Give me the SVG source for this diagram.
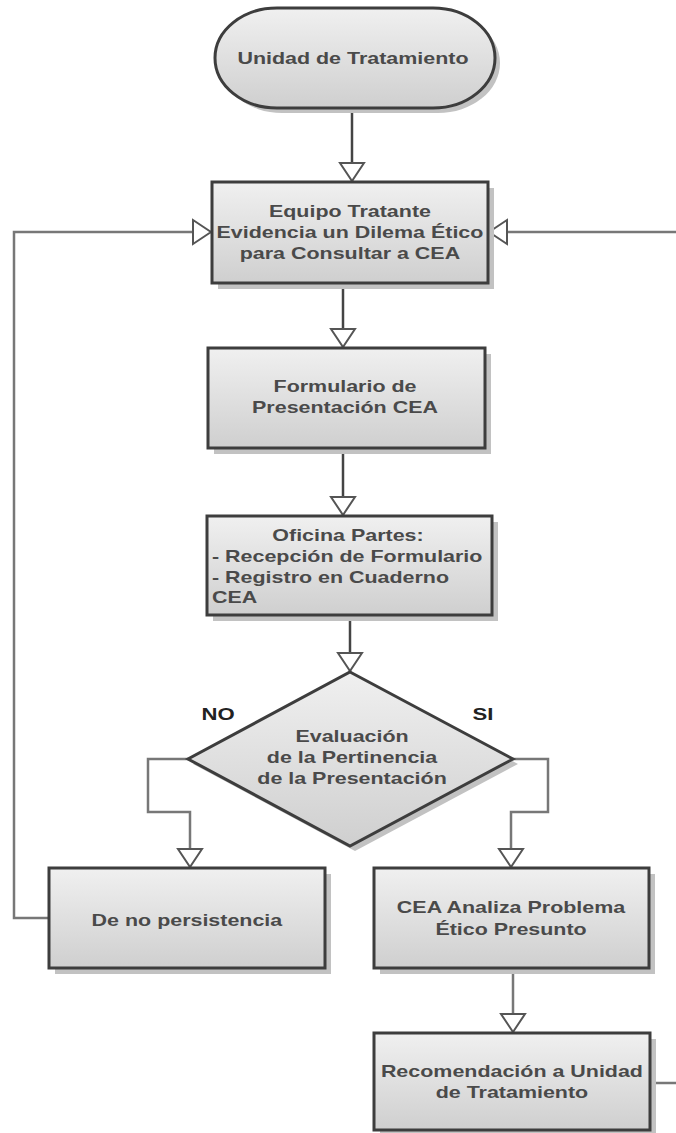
<svg xmlns="http://www.w3.org/2000/svg" width="676" height="1133" viewBox="0 0 676 1133">
<defs>
<linearGradient id="g" x1="0" y1="0" x2="0" y2="1">
<stop offset="0" stop-color="#f0f0f0"/>
<stop offset="1" stop-color="#cfcfcf"/>
</linearGradient>
<marker id="ah" viewBox="0 0 20 28" markerWidth="20" markerHeight="28" refX="20" refY="14" orient="auto" markerUnits="userSpaceOnUse">
<path d="M1,2 L19,14 L1,26 Z" fill="#fff" stroke="#555" stroke-width="2"/>
</marker>
</defs>
<style>
.shape{fill:url(#g);stroke:#3d3d3d;stroke-width:3}
.shadow{fill:#c2c2c2}
.t{font-family:"Liberation Sans",Arial,sans-serif;font-weight:bold;font-size:16.5px;fill:#4a4a4a}
.c{text-anchor:middle}
.lbl{font-family:"Liberation Sans",Arial,sans-serif;font-weight:bold;font-size:17px;fill:#222;text-anchor:middle}
.cn{fill:none;stroke:#444;stroke-width:2.5}
.cl{fill:none;stroke:#777;stroke-width:2.5}
</style>
<rect width="676" height="1133" fill="#fff"/>

<g id="connectors">
<path class="cn" d="M352,108 V182" marker-end="url(#ah)"/>
<path class="cn" d="M343,283 V348" marker-end="url(#ah)"/>
<path class="cn" d="M343,448 V516" marker-end="url(#ah)"/>
<path class="cn" d="M350,615 V672" marker-end="url(#ah)"/>
<path class="cl" d="M188,759 H148 V812 H190 V868" marker-end="url(#ah)"/>
<path class="cl" d="M513,759 H548 V812 H511 V868" marker-end="url(#ah)"/>
<path class="cl" d="M513,968 V1033" marker-end="url(#ah)"/>
<path class="cl" d="M50,918 H14 V232 H212" marker-end="url(#ah)"/>
<path class="cl" d="M676,232 H488" marker-end="url(#ah)"/>
<path class="cl" d="M650,1083 H676"/>
</g>

<g id="n-unidad">
<rect class="shadow" x="220" y="13" width="280" height="100" rx="62" ry="50"/>
<rect class="shape" x="215" y="8" width="280" height="100" rx="62" ry="50"/>
<g transform="scale(1.3,1)"><text class="t c" x="271.5" y="64">Unidad de Tratamiento</text></g>
</g>

<g id="n-equipo">
<rect class="shadow" x="218" y="188" width="276" height="101"/>
<rect class="shape" x="212" y="182" width="276" height="101"/>
<g transform="scale(1.3,1)">
<text class="t c" x="269.2" y="217">Equipo Tratante</text>
<text class="t c" x="269.2" y="238">Evidencia un Dilema Ético</text>
<text class="t c" x="269.2" y="259">para Consultar a CEA</text>
</g>
</g>

<g id="n-formulario">
<rect class="shadow" x="214" y="354" width="277" height="100"/>
<rect class="shape" x="208" y="348" width="277" height="100"/>
<g transform="scale(1.3,1)">
<text class="t c" x="265.4" y="392">Formulario de</text>
<text class="t c" x="265.4" y="413">Presentación CEA</text>
</g>
</g>

<g id="n-oficina">
<rect class="shadow" x="213" y="522" width="285" height="99"/>
<rect class="shape" x="207" y="516" width="285" height="99"/>
<g transform="scale(1.3,1)">
<text class="t c" x="267.7" y="541">Oficina Partes:</text>
<text class="t" x="163.1" y="562">- Recepción de Formulario</text>
<text class="t" x="163.1" y="583">- Registro en Cuaderno</text>
<text class="t" x="163.1" y="603">CEA</text>
</g>
</g>

<g id="n-evaluacion">
<polygon class="shadow" points="355,677 518,764 355,851 193,764"/>
<polygon class="shape" points="350,672 513,759 350,846 188,759"/>
<g transform="scale(1.3,1)">
<text class="t c" x="270.8" y="742">Evaluación</text>
<text class="t c" x="270.8" y="763">de la Pertinencia</text>
<text class="t c" x="270.8" y="784">de la Presentación</text>
<text class="lbl" x="167.7" y="720">NO</text>
<text class="lbl" x="371.5" y="720">SI</text>
</g>
</g>

<g id="n-nopersistencia">
<rect class="shadow" x="55" y="874" width="276" height="100"/>
<rect class="shape" x="49" y="868" width="276" height="100"/>
<g transform="scale(1.3,1)"><text class="t c" x="143.8" y="926">De no persistencia</text></g>
</g>

<g id="n-cea">
<rect class="shadow" x="380" y="874" width="275" height="100"/>
<rect class="shape" x="374" y="868" width="275" height="100"/>
<g transform="scale(1.3,1)">
<text class="t c" x="393.1" y="913">CEA Analiza Problema</text>
<text class="t c" x="393.1" y="935">Ético Presunto</text>
</g>
</g>

<g id="n-recomendacion">
<rect class="shadow" x="380" y="1039" width="276" height="97"/>
<rect class="shape" x="374" y="1033" width="276" height="97"/>
<g transform="scale(1.3,1)">
<text class="t c" x="393.8" y="1077">Recomendación a Unidad</text>
<text class="t c" x="393.8" y="1098">de Tratamiento</text>
</g>
</g>
</svg>
